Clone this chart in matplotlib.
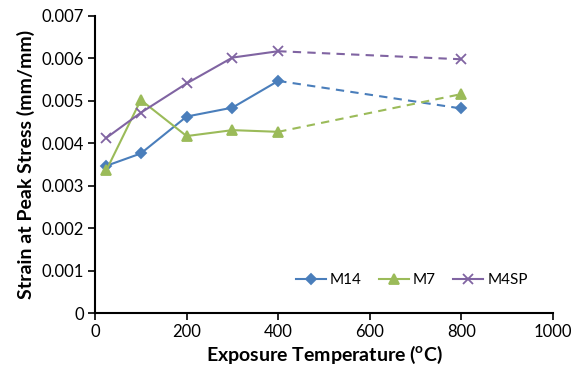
import matplotlib
matplotlib.use("Agg")
import matplotlib.pyplot as plt

plt.rcParams['font.family'] = ['Lato', 'DejaVu Sans']
plt.rcParams['mathtext.fontset'] = 'custom'
plt.rcParams['mathtext.rm'] = 'Lato:bold'

temps = [25, 100, 200, 300, 400, 800]
m14 = [0.00347, 0.00376, 0.00463, 0.00484, 0.00547, 0.00482]
m7 = [0.00337, 0.00502, 0.00417, 0.00431, 0.00427, 0.00516]
m4sp = [0.00413, 0.00472, 0.00541, 0.00602, 0.00617, 0.00598]

series = [
    ("M14", m14, "#4A7EBB", "D", 5),
    ("M7", m7, "#9BBB59", "^", 7),
    ("M4SP", m4sp, "#8064A2", "x", 7),
]

fig = plt.figure(figsize=(5.81, 3.69), dpi=100)
ax = fig.add_axes([95 / 581, 1 - 313 / 369, 458 / 581, 297 / 369])

for name, vals, col, mk, ms in series:
    # solid part up to 400 C, dashed extension to 800 C
    ax.plot(temps[:5], vals[:5], color=col, lw=1.5, marker=mk, ms=ms,
            mew=1.3, label=name)
    ax.plot(temps[4:], vals[4:], color=col, lw=1.5, ls=(0, (4, 3)),
            marker=mk, ms=ms, mew=1.3, markevery=[1])

ax.set_xlim(0, 1000)
ax.set_ylim(0, 0.007)
ax.set_xticks(range(0, 1001, 200))
ax.set_yticks([i / 1000 for i in range(8)])
ax.set_yticklabels(["0"] + ["%.3f" % (i / 1000) for i in range(1, 8)])

for s in ["top", "right"]:
    ax.spines[s].set_visible(False)
for s in ["left", "bottom"]:
    ax.spines[s].set_linewidth(1.5)
ax.tick_params(direction="out", length=5, width=1.2, labelsize=12, pad=3)

ax.set_xlabel("Exposure Temperature ($^{\\mathrm{o}}$C)", fontsize=14,
              fontweight="bold", labelpad=3)
ax.set_ylabel("Strain at Peak Stress (mm/mm)", fontsize=14,
              fontweight="bold", labelpad=5)

ax.legend(loc="lower right", ncol=3, frameon=False, fontsize=11,
          bbox_to_anchor=(0.975, 0.04), handlelength=2.0, columnspacing=1.1,
          handletextpad=0.25)

fig.savefig("out.png", dpi=100)
